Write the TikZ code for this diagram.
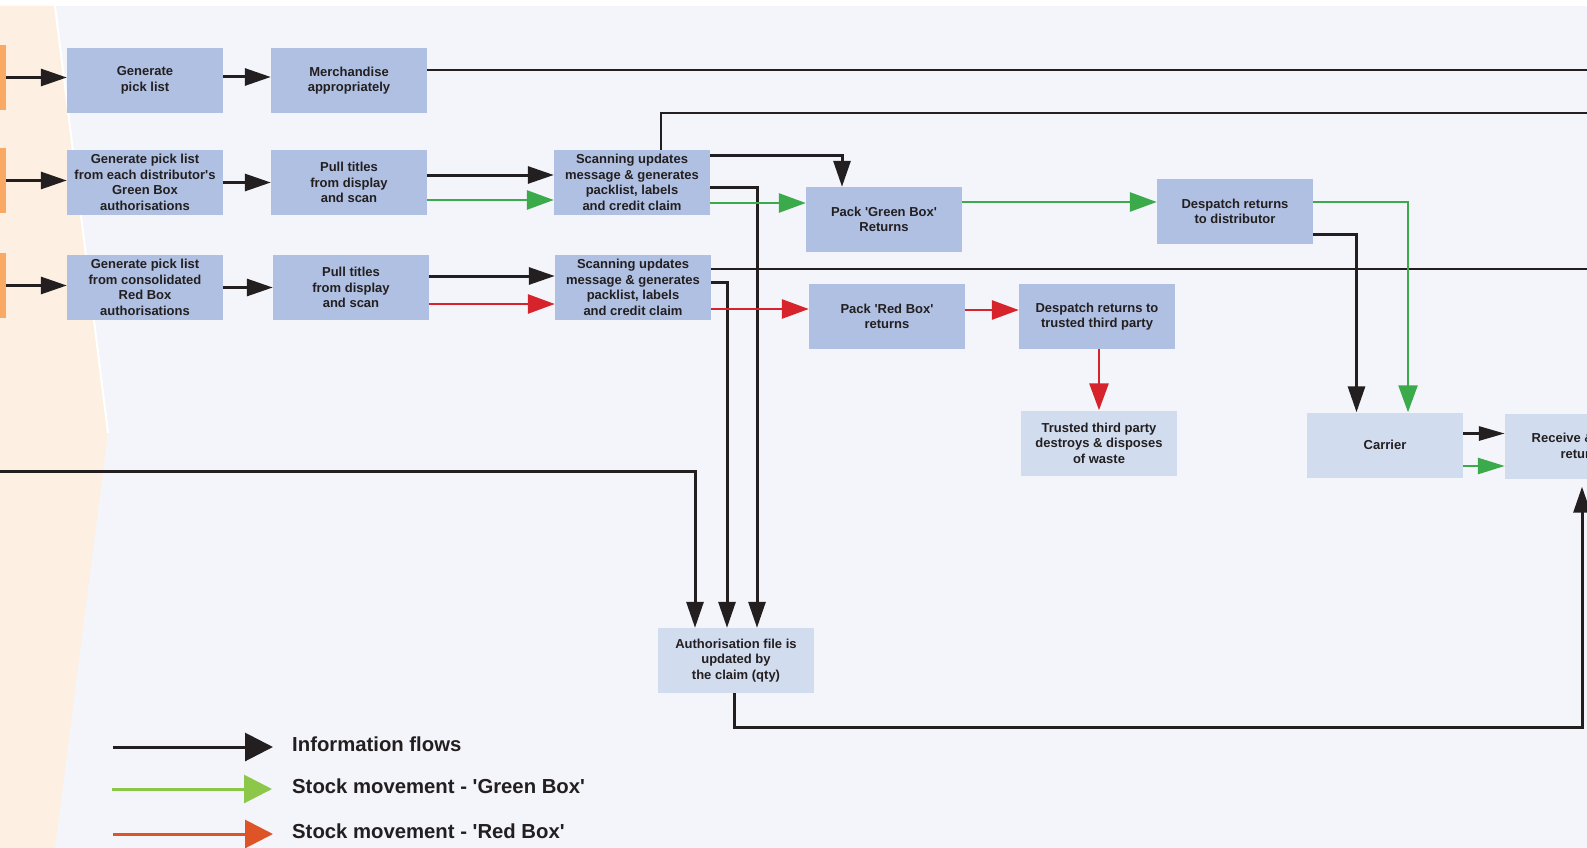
\documentclass[tikz,border=0pt]{standalone}
\usepackage{fontspec}
\newfontfamily\dfont{Liberation Sans}
\usetikzlibrary{arrows.meta}
\definecolor{boxc}{HTML}{AFC0E2}
\definecolor{lboxc}{HTML}{D2DCEF}
\definecolor{bgc}{HTML}{F3F5FA}
\definecolor{peach}{HTML}{FDF0E3}
\definecolor{orng}{HTML}{F9A963}
\definecolor{ink}{HTML}{231F20}
\definecolor{grn}{HTML}{3BAA4A}
\definecolor{rd}{HTML}{D7232B}
\definecolor{lgrn}{HTML}{8DC74A}
\definecolor{lred}{HTML}{DF5427}
\tikzset{
  box/.style={rectangle, fill=boxc, minimum width=156pt, minimum height=65pt, inner sep=0pt,
    align=center, text=ink, font=\dfont\bfseries\fontsize{13}{15.5}\selectfont},
  lbox/.style={box, fill=lboxc},
  bar/.style={rectangle, fill=orng, minimum width=6pt, minimum height=65pt, inner sep=0pt},
  tip/.style={-{Triangle[length=26pt,width=17pt]}},
  info/.style={draw=ink, line width=3pt, tip},
  infoline/.style={draw=ink, line width=2.2pt},
  gflow/.style={draw=grn, line width=2.8pt, -{Triangle[length=27pt,width=19pt,fill=grn]}},
  rflow/.style={draw=rd, line width=2.8pt, -{Triangle[length=27pt,width=19pt,fill=rd]}},
  legtext/.style={anchor=west, text=ink, inner sep=0pt, font=\dfont\bfseries\fontsize{20.3}{24}\selectfont}
}
\begin{document}
\begin{tikzpicture}[x=1pt,y=-1pt]
\path[use as bounding box] (0,0) rectangle (1587,848);
\clip (0,0) rectangle (1587,848);
\fill[white] (0,0) rectangle (1587,848);
\fill[bgc] (0,6) rectangle (1587,848);
\fill[peach] (0,6) -- (55,6) -- (108,433) -- (55,848) -- (0,848) -- cycle;
\draw[white, line width=2pt] (55,6) -- (108,433);

% orange bars
\node[bar] (o1) at (3,77.5) {};
\node[bar] (o2) at (3,180.5) {};
\node[bar] (o3) at (3,285.5) {};

% boxes
\node[box] (gpl) at (145,80.5) {Generate\\pick list};
\node[box] (merch) at (349,80.5) {Merchandise\\appropriately};
\node[box] (gplg) at (145,182.5) {Generate pick list\\from each distributor's\\Green Box\\authorisations};
\node[box] (pull1) at (349,182.5) {Pull titles\\from display\\and scan};
\node[box] (gplr) at (145,287.5) {Generate pick list\\from consolidated\\Red Box\\authorisations};
\node[box] (pull2) at (351,287.5) {Pull titles\\from display\\and scan};
\node[box] (scan1) at (632,182.5) {Scanning updates\\message \& generates\\packlist, labels\\and credit claim};
\node[box] (scan2) at (633,287.5) {Scanning updates\\message \& generates\\packlist, labels\\and credit claim};
\node[box] (packg) at (884,219.5) {Pack 'Green Box'\\Returns};
\node[box] (packr) at (887,316.5) {Pack 'Red Box'\\returns};
\node[box] (desd) at (1235,211.5) {Despatch returns\\to distributor};
\node[box] (dest) at (1097,316.5) {Despatch returns to\\trusted third party};
\node[lbox] (trust) at (1099,443) {Trusted third party\\destroys \& disposes\\of waste};
\node[lbox] (carrier) at (1385,445) {Carrier};
\node[lbox] (receive) at (1583,446) {Receive \& check\\returns};
\node[lbox] (auth) at (736,660.5) {Authorisation file is\\updated by\\the claim (qty)};

% free ends
\coordinate (edge1) at (1592,70);
\coordinate (edge2) at (1592,113);
\coordinate (edge3) at (1592,269);
\coordinate (lin) at (-5,471);
\coordinate (yb) at (0,727);

% left arrows
\draw[info] (o1.east) -- (gpl.west |- o1.east);
\draw[info] (o2.east) -- (gplg.west |- o2.east);
\draw[info] (o3.east) -- (gplr.west |- o3.east);
\draw[info] ([yshift=3.5pt]gpl.east) -- ([yshift=3.5pt]merch.west);
\draw[info] (gplg.east) -- (pull1.west);
\draw[info] (gplr.east) -- (pull2.west);

% long lines to the right edge
\draw[infoline] (merch.east |- edge1) -- (edge1);
\draw[infoline] ([xshift=29pt]scan1.north) |- (edge2);
\draw[infoline] (scan2.east |- edge3) -- (edge3);

% pull -> scan
\draw[info] ([yshift=7.5pt]pull1.east) -- ([yshift=7.5pt]scan1.west);
\draw[gflow] ([yshift=-17.5pt]pull1.east) -- ([yshift=-17.5pt]scan1.west);
\draw[info] ([yshift=11.5pt]pull2.east) -- ([yshift=11.5pt]scan2.west);
\draw[rflow] ([yshift=-16.5pt]pull2.east) -- ([yshift=-16.5pt]scan2.west);

% scan1 outputs
\draw[info] ([yshift=27.5pt]scan1.east) -| ([xshift=-42pt]packg.north);
\draw[info] ([yshift=-4.5pt]scan1.east) -| ([xshift=21pt]auth.north);
\coordinate (g1) at ([yshift=-20.5pt]scan1.east);
\draw[gflow] (g1) -- (packg.west |- g1);

% scan2 outputs
\draw[info] ([yshift=5.5pt]scan2.east) -| ([xshift=-9pt]auth.north);
\coordinate (r1) at ([yshift=-21.5pt]scan2.east);
\draw[rflow] (r1) -- (packr.west |- r1);

% left edge line into auth
\draw[info] (lin) -| ([xshift=-41pt]auth.north);

% pack -> despatch
\coordinate (g2) at ([yshift=17.5pt]packg.east);
\draw[gflow] (g2) -- (desd.west |- g2);
\draw[rflow] ([yshift=6.5pt]packr.east) -- ([yshift=6.5pt]dest.west);
\draw[rflow] (trust.north |- dest.south) -- (trust.north);

% despatch -> carrier
\draw[info] ([yshift=-22.5pt]desd.east) -| ([xshift=-28.5pt]carrier.north);
\draw[gflow, line width=2.4pt] ([yshift=9.5pt]desd.east) -| ([xshift=23pt]carrier.north);

% carrier -> receive
\draw[draw=ink, line width=3pt, -{Triangle[length=26pt,width=14pt]}] ([yshift=11.5pt]carrier.east) -- ([yshift=12.5pt]receive.west);
\draw[draw=grn, line width=2.8pt, -{Triangle[length=27pt,width=16pt,fill=grn]}] ([yshift=-21pt]carrier.east) -- ([yshift=-20pt]receive.west);

% auth -> receive
\coordinate (ab) at ([xshift=-2pt]auth.south);
\coordinate (rb) at ([xshift=-1pt,yshift=-8pt]receive.south);
\draw[info] (ab) |- (rb |- yb) -- (rb);

% legend
\coordinate (l1a) at (113,747);
\coordinate (l1b) at (273,747);
\coordinate (l2a) at (112,789);
\coordinate (l2b) at (272,789);
\coordinate (l3a) at (113,834);
\coordinate (l3b) at (273,834);
\draw[draw=ink, line width=3pt, -{Triangle[length=28pt,width=28pt]}] (l1a) -- (l1b);
\draw[draw=lgrn, line width=3pt, -{Triangle[length=28pt,width=28pt,fill=lgrn]}] (l2a) -- (l2b);
\draw[draw=lred, line width=3pt, -{Triangle[length=28pt,width=28pt,fill=lred]}] (l3a) -- (l3b);
\node[legtext] (t1) at (292,744) {Information flows};
\node[legtext] (t2) at (292,786) {Stock movement - 'Green Box'};
\node[legtext] (t3) at (292,831) {Stock movement - 'Red Box'};
\end{tikzpicture}
\end{document}
